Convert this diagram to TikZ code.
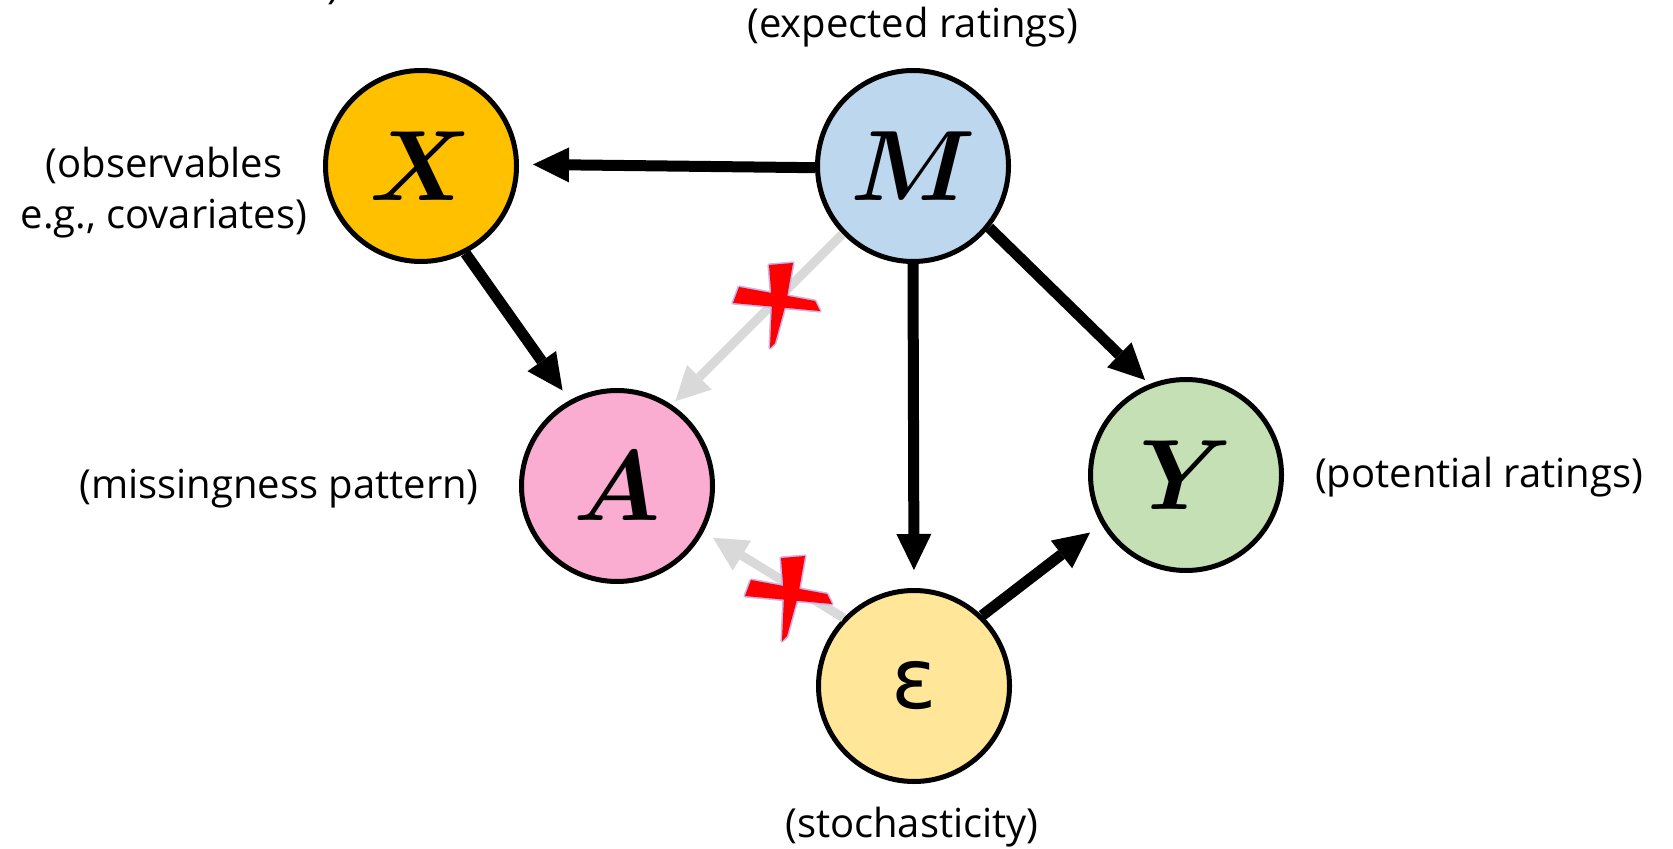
\documentclass[tikz,border=0pt]{standalone}
\usepackage{amsmath}
\usepackage{graphicx}
\usepackage{fontspec}
\setmainfont{Open Sans}
\newfontfamily\epsfont{DejaVu Sans}
\usetikzlibrary{arrows.meta}
\definecolor{cX}{HTML}{FFC000}
\definecolor{cM}{HTML}{BDD7EE}
\definecolor{cA}{HTML}{FAADD0}
\definecolor{cY}{HTML}{C5E0B4}
\definecolor{cE}{HTML}{FFE699}
\definecolor{cG}{HTML}{D9D9D9}
\definecolor{crossedge}{HTML}{C8B4F0}
\newcommand{\bigvar}[1]{\scalebox{2.01}{\fontsize{24.88}{30}\selectfont$\boldsymbol{#1}$}}
\tikzset{
  var/.style={circle, draw=black, line width=2.5pt, minimum size=95.5pt, inner sep=0pt},
  lab/.style={font=\fontsize{20}{25.6}\selectfont, inner sep=0pt, align=center},
  blackarrow/.style={draw=black, line width=5.5pt,
              -{Triangle[length=18pt,width=17.5pt,line width=0pt]}},
  grayarrow/.style={draw=cG, line width=4.5pt,
              -{Triangle[length=17pt,width=17.5pt,line width=0pt]}},
  redcross/.pic={
    \draw[crossedge, line width=1.6pt, line join=round]
      (-38,-18) -- (38,-4) -- (43,6) -- (-44,-2) -- cycle
      (-8,-40) -- (16,-42) -- (9,-2) -- (-2,38) -- (-7,43) -- (-5,-2) -- cycle;
    \fill[red]
      (-38,-18) -- (38,-4) -- (43,6) -- (-44,-2) -- cycle
      (-8,-40) -- (16,-42) -- (9,-2) -- (-2,38) -- (-7,43) -- (-5,-2) -- cycle;
  }
}
\begin{document}
\begin{tikzpicture}[x=0.5pt, y=-0.5pt]
\useasboundingbox[fill=white] (0,0) rectangle (1673,849);

% variable nodes
\node[var, fill=cX] (X) at (421,166) {\bigvar{X}};
\node[var, fill=cM] (M) at (913,166) {\bigvar{M}};
\node[var, fill=cA] (A) at (617,486) {\bigvar{A}};
\node[var, fill=cY] (Y) at (1186,475) {\bigvar{Y}};
\node[var, fill=cE, font=\epsfont\fontsize{42}{50}\selectfont] (E) at (914,686) {ε};

% labels
\node[lab, anchor=base west] (frag) at (327,-1) {)};
\node[lab] (lM) at (913,27) {(expected ratings)};
\node[lab] (lX) at (164,193) {(observables\\e.g., covariates)};
\node[lab] (lA) at (279,489) {(missingness pattern)};
\node[lab] (lY) at (1479,477) {(potential ratings)};
\node[lab] (lE) at (912,827) {(stochasticity)};

% gray (removed) edges
\draw[grayarrow, shorten >=2.5pt] (M.-136) -- (A.56);
\draw[grayarrow, shorten >=5.5pt] (E.136) -- (A.-28);

% black edges
\draw[blackarrow, shorten >=7pt] (M.181) -- (X.1.5);
\draw[blackarrow, shorten >=6pt] (X.-63) -- (A.119);
\draw[blackarrow, shorten >=9pt] (M.-90) -- (E.90);
\draw[blackarrow, shorten >=3pt] (M.-39.5) -- (Y.112);
\draw[blackarrow, shorten >=7pt] (E.46) -- (Y.210.7);

% red crosses
\pic at (777,305) {redcross};
\pic at (789,598) {redcross};
\end{tikzpicture}
\end{document}
